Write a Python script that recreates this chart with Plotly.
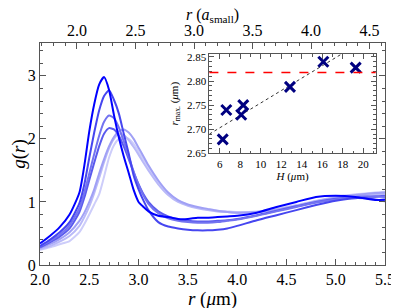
import numpy as np
import plotly.graph_objects as go

# ------------------------------------------
# data: g(r) curves, r in micrometres
# ------------------------------------------
r_um = [2.0, 2.1, 2.2, 2.3, 2.4, 2.45, 2.5, 2.55, 2.6, 2.65,
        2.7, 2.75, 2.8, 2.85, 2.9, 2.95, 3.0, 3.05, 3.1,
        3.2, 3.3, 3.4, 3.5, 3.6, 3.7, 3.8, 3.9, 4.0,
        4.2, 4.4, 4.6, 4.8, 5.0, 5.2, 5.4, 5.5]

g_1 = [0.34, 0.46, 0.60, 0.80, 1.15, 1.58, 2.12, 2.55, 2.86, 2.98,
       2.78, 2.38, 2.02, 1.72, 1.46, 1.19, 1.00, 0.92, 0.85,
       0.78, 0.76, 0.73, 0.73, 0.75, 0.75, 0.76, 0.77, 0.78,
       0.83, 0.92, 1.00, 1.08, 1.10, 1.08, 1.03, 1.04]
g_2 = [0.30, 0.40, 0.52, 0.68, 0.98, 1.28, 1.70, 2.10, 2.45, 2.68,
       2.77, 2.62, 2.40, 2.08, 1.77, 1.42, 1.20, 1.02, 0.87,
       0.68, 0.61, 0.58, 0.56, 0.55, 0.55, 0.56, 0.58, 0.62,
       0.71, 0.79, 0.87, 0.95, 1.02, 1.06, 1.04, 1.01]
g_3 = [0.30, 0.38, 0.48, 0.63, 0.90, 1.15, 1.45, 1.76, 2.05, 2.27,
       2.37, 2.33, 2.18, 1.96, 1.72, 1.48, 1.27, 1.10, 0.97,
       0.82, 0.74, 0.70, 0.68, 0.67, 0.67, 0.68, 0.70, 0.72,
       0.78, 0.85, 0.92, 0.99, 1.04, 1.07, 1.08, 1.08]
g_4 = [0.28, 0.36, 0.45, 0.58, 0.84, 1.07, 1.35, 1.62, 1.88, 2.08,
       2.17, 2.15, 2.05, 1.88, 1.68, 1.47, 1.28, 1.12, 1.00,
       0.85, 0.77, 0.72, 0.70, 0.69, 0.69, 0.70, 0.71, 0.73,
       0.79, 0.86, 0.93, 1.00, 1.05, 1.08, 1.09, 1.10]
g_5 = [0.27, 0.33, 0.41, 0.52, 0.70, 0.83, 1.00, 1.20, 1.45, 1.68,
       1.88, 2.03, 2.12, 2.15, 2.10, 2.00, 1.86, 1.72, 1.58,
       1.34, 1.15, 1.03, 0.96, 0.92, 0.89, 0.86, 0.84, 0.83,
       0.84, 0.88, 0.94, 1.01, 1.07, 1.11, 1.14, 1.15]
g_6 = [0.25, 0.30, 0.37, 0.46, 0.62, 0.76, 0.93, 1.14, 1.38, 1.63,
       1.85, 2.00, 2.08, 2.06, 1.98, 1.87, 1.75, 1.62, 1.50,
       1.28, 1.11, 1.00, 0.94, 0.90, 0.87, 0.85, 0.84, 0.83,
       0.84, 0.87, 0.93, 0.99, 1.05, 1.09, 1.12, 1.13]
g_7 = [0.24, 0.28, 0.33, 0.38, 0.52, 0.65, 0.80, 0.96, 1.12, 1.40,
       1.70, 1.90, 2.00, 2.03, 2.00, 1.92, 1.80, 1.67, 1.55,
       1.32, 1.14, 1.02, 0.95, 0.91, 0.88, 0.86, 0.85, 0.84,
       0.85, 0.89, 0.95, 1.02, 1.08, 1.12, 1.15, 1.16]

curves = [g_7, g_6, g_5, g_4, g_3, g_2, g_1]
colors = ["rgb(205,205,250)", "rgb(185,185,248)", "rgb(160,160,245)",
          "rgb(90,90,238)", "rgb(115,115,240)", "rgb(70,70,240)",
          "rgb(0,0,255)"]

# r in units of a_small
a_small = 1.1875
top_ticks = [2.0, 2.5, 3.0, 3.5, 4.0, 4.5]

# ------------------------------------------
# data: inset, peak position vs H
# ------------------------------------------
H_um = [6.3, 6.65, 8.1, 8.3, 12.85, 16.1, 19.25]
r_max = [2.679, 2.740, 2.730, 2.750, 2.788, 2.840, 2.828]
r_limit = 2.818
fit_intercept = 2.690   # value at H = 5
fit_slope = 0.0129
fit_H = np.array([5.0, 21.2])

FONT = "Liberation Serif"

fig = go.Figure()

for g, c in zip(curves, colors):
    fig.add_trace(go.Scatter(
        x=r_um, y=g, mode="lines",
        line=dict(color=c, width=2, shape="spline", smoothing=0.6),
        showlegend=False, xaxis="x", yaxis="y"
    ))

# same curve in a_small units, invisible, only so the top axis is drawn
fig.add_trace(go.Scatter(
    x=np.array(r_um) / a_small, y=g_1, mode="lines",
    line=dict(color="rgba(0,0,0,0)", width=0),
    hoverinfo="skip", showlegend=False, xaxis="x2", yaxis="y"
))

# inset
fig.add_trace(go.Scatter(
    x=fit_H, y=fit_intercept + fit_slope * (fit_H - 5.0),
    mode="lines", line=dict(color="#333", width=1, dash="dot"),
    showlegend=False, xaxis="x3", yaxis="y3"
))
fig.add_trace(go.Scatter(
    x=H_um, y=r_max, mode="markers",
    marker=dict(symbol="x-thin", size=10, line=dict(color="#000080", width=3)),
    showlegend=False, xaxis="x3", yaxis="y3"
))
fig.add_shape(type="line", xref="x3 domain", yref="y3",
              x0=0, x1=1, y0=r_limit, y1=r_limit,
              line=dict(color="red", width=1.5, dash="dash"))

# top axis title (axis standoff is ignored without automargin)
fig.add_annotation(
    text="<i>r</i> (<i>a</i><sub>small</sub>)", showarrow=False,
    xref="paper", yref="paper", x=0.5, y=1, yanchor="middle", yshift=28,
    font=dict(size=16)
)

axis_common = dict(
    showline=True, linecolor="#555", linewidth=1, automargin=False,
    ticks="inside", tickcolor="#555", showgrid=False, zeroline=False,
)

# page body adds 8 px on the left/top, margins compensate for it
fig.update_layout(
    width=399, height=308,
    margin=dict(l=32, r=22, t=35, b=51),
    plot_bgcolor="white", paper_bgcolor="white",
    font=dict(family=FONT, size=16, color="black"),
    xaxis=dict(
        **axis_common, range=[2.0, 5.5], dtick=0.5, tick0=2.0,
        tickformat=".1f", ticklen=6, mirror=True,
        minor=dict(ticks="inside", dtick=0.1, ticklen=3, tickcolor="#555"),
        title=dict(text="<i>r</i> (<i>μ</i>m)", standoff=4),
    ),
    xaxis2=dict(
        **axis_common, overlaying="x", side="top", anchor="y",
        range=[2.0 / a_small, 5.5 / a_small],
        tickvals=top_ticks, tickformat=".1f", ticklen=6,
        minor=dict(ticks="inside", dtick=0.1, ticklen=3, tickcolor="#555"),
    ),
    yaxis=dict(
        **axis_common, range=[0, 3.52], dtick=1, ticklen=6, mirror="ticks",
        minor=dict(ticks="inside", dtick=0.2, ticklen=3, tickcolor="#555"),
        title=dict(text="<i>g</i>(<i>r</i>)", standoff=6),
    ),
    xaxis3=dict(
        **axis_common, domain=[0.491, 0.973], anchor="y3",
        range=[5.0, 21.2], dtick=2, tick0=0, ticklen=5, mirror="ticks",
        tickfont=dict(size=11),
        minor=dict(ticks="inside", dtick=1, ticklen=2.5, tickcolor="#555"),
        title=dict(text="<i>H</i> (<i>μ</i>m)", font=dict(size=11), standoff=2),
    ),
    yaxis3=dict(
        **axis_common, domain=[0.503, 0.950], anchor="x3",
        range=[2.65, 2.856], dtick=0.05, tick0=2.65, tickformat=".2f",
        ticklen=5, mirror="ticks", tickfont=dict(size=11),
        minor=dict(ticks="inside", dtick=0.01, ticklen=2.5, tickcolor="#555"),
        title=dict(text="<i>r</i><sub>max.</sub> (<i>μ</i>m)",
                   font=dict(size=11), standoff=6),
    ),
)

fig.write_html("out.html")
